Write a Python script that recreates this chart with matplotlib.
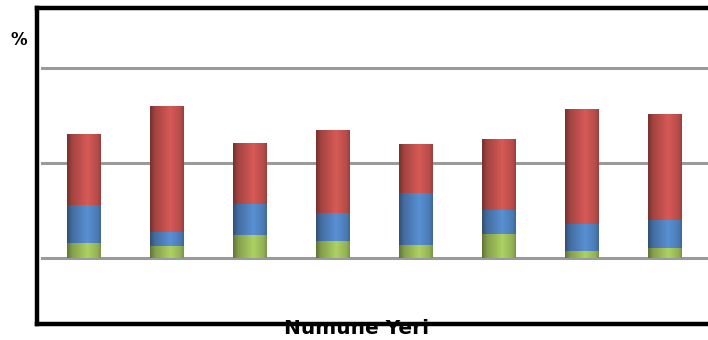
import numpy as np
import matplotlib
matplotlib.use("Agg")
import matplotlib.pyplot as plt
from matplotlib.colors import to_rgb
from matplotlib.lines import Line2D

# stacked values (gridline step = 10)
places = ["1", "2", "3", "4", "5", "6", "7", "8"]
green_vals = [1.5, 1.2, 2.4, 1.8, 1.3, 2.5, 0.7, 1.0]
blue_vals = [4.0, 1.5, 3.3, 2.9, 5.5, 2.5, 2.9, 3.0]
red_vals = [7.5, 13.3, 6.4, 8.7, 5.2, 7.5, 12.0, 11.1]
grid_vals = [0, 10, 20]

colors = ["#9BBB59", "#4F81BD", "#C0504D"]

fig = plt.figure(figsize=(7.08, 3.40), dpi=100)
ax = fig.add_axes([0.059, 0.242, 0.938, 0.559])

x = np.arange(len(places))
bottom = np.zeros(len(places))
patches = []
for vals, col in zip([green_vals, blue_vals, red_vals], colors):
    bars = ax.bar(x, vals, width=0.4, bottom=bottom, color=col, zorder=3)
    patches += [(b, col) for b in bars]
    bottom += np.array(vals)

# cylinder-like shading across each bar
t = np.linspace(0, 1, 60)
shade = np.interp(t, [0, 0.15, 0.6, 0.9, 1], [0.62, 0.85, 1.12, 0.95, 0.8])
for b, col in patches:
    bb = b.get_bbox()
    rgb = np.clip(np.array(to_rgb(col))[None, :] * shade[:, None], 0, 1)
    img = ax.imshow(rgb[None, :, :], extent=(bb.x0, bb.x1, bb.y0, bb.y1),
                    aspect="auto", zorder=4, interpolation="bilinear")
    img.set_clip_path(b)

for g in grid_vals:
    ax.axhline(g, color="#9a9a9a", lw=2.2, zorder=2, clip_on=False)

ax.set_xlim(-0.5, len(places) - 0.5)
ax.set_ylim(0, 20)
ax.set_xticks([])
ax.set_yticks([])
for s in ax.spines.values():
    s.set_visible(False)
ax.patch.set_alpha(0)

fig.text(19 / 708, 1 - 40 / 340, "%", fontsize=12, fontweight="bold",
         ha="center", va="center")
fig.text(357 / 708, 1 - 328 / 340, "Numune Yeri", fontsize=14.5,
         fontweight="bold", ha="center", va="center")

# chart border (right side falls outside the picture)
W, H = 708, 340
kw = dict(color="black", lw=3.2, solid_capstyle="projecting", zorder=10)
fig.add_artist(Line2D([36.5 / W, 36.5 / W], [1 - 8 / H, 1 - 324 / H], **kw))
fig.add_artist(Line2D([36.5 / W, 1.02], [1 - 8 / H, 1 - 8 / H], **kw))
fig.add_artist(Line2D([36.5 / W, 1.02], [1 - 324 / H, 1 - 324 / H], **kw))

fig.savefig("out.png", dpi=100, facecolor="white")
